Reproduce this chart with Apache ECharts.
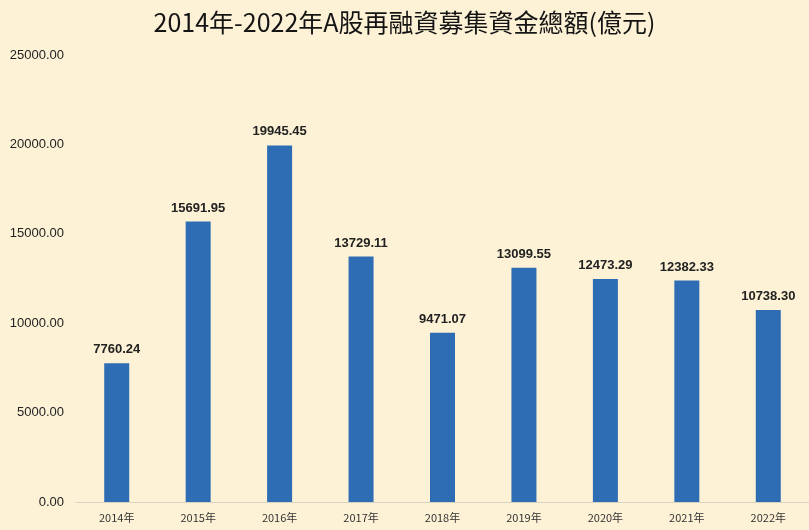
<!DOCTYPE html>
<html><head><meta charset="utf-8">
<script src="https://cdn.jsdelivr.net/npm/echarts@6/dist/echarts.min.js"></script>
<style>html,body{margin:0;padding:0;background:#fdf2d6;}#c{width:809px;height:530px;}</style>
</head><body><div id="c"></div>
<script>
const categories = ['2014年','2015年','2016年','2017年','2018年','2019年','2020年','2021年','2022年'];
const values = [7760.24, 15691.95, 19945.45, 13729.11, 9471.07, 13099.55, 12473.29, 12382.33, 10738.30];
const titleText = '2014年-2022年A股再融資募集資金總額(億元)';
const chart = echarts.init(document.getElementById('c'));
chart.setOption({
  backgroundColor: '#fdf2d6',
  animation: false,
  title: {text: titleText, left: 'center', top: 5,
    textStyle: {fontFamily: 'Noto Sans CJK TC', fontSize: 25, fontWeight: 'normal', color: '#141414'}},
  grid: {left: 76, width: 740, top: 55, bottom: 28},
  xAxis: {type: 'category', data: categories,
    axisLine: {lineStyle: {color: '#d8d2c0'}}, axisTick: {show: false},
    axisLabel: {fontSize: 11, color: '#333', margin: 10, fontFamily: 'Noto Sans CJK TC'}},
  yAxis: {type: 'value', min: 0, max: 25000, interval: 5000,
    splitLine: {show: false}, axisLine: {show: false}, axisTick: {show: false},
    axisLabel: {fontSize: 13, color: '#222', margin: 12, fontFamily: 'Liberation Sans',
      formatter: v => v.toFixed(2)}},
  series: [{type: 'bar', data: values, barWidth: 25,
    itemStyle: {color: '#2e6db3'},
    label: {show: true, position: 'top', distance: 7, fontSize: 13, fontWeight: 'bold', color: '#222',
      fontFamily: 'Liberation Sans', formatter: p => p.value.toFixed(2)}}]
});
</script></body></html>
